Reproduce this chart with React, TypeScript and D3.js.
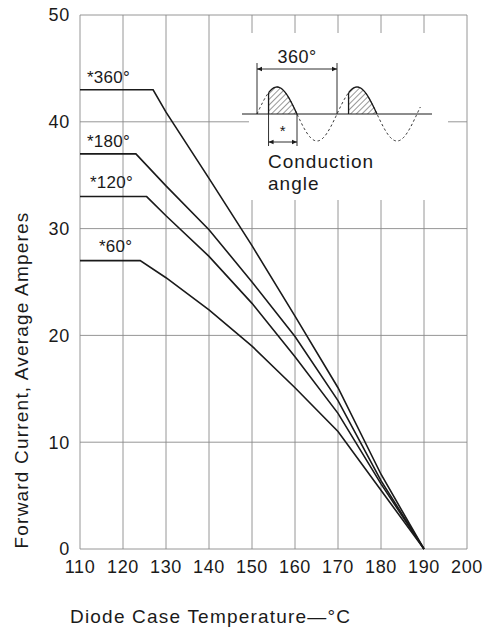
import React from "react";
import * as d3 from "d3";

// ---- data ----
const xTicks = [110, 120, 130, 140, 150, 160, 170, 180, 190, 200];
const yTicks = [0, 10, 20, 30, 40, 50];

const temps360 = [110, 127, 130, 140, 150, 160, 170, 180, 190];
const amps360 = [43, 43, 40.9, 34.7, 28.4, 21.8, 15.1, 7.0, 0];
const temps180 = [110, 123, 130, 140, 150, 160, 170, 180, 190];
const amps180 = [37, 37, 34.0, 29.9, 25.0, 19.9, 13.9, 6.4, 0];
const temps120 = [110, 125.5, 130, 140, 150, 160, 170, 180, 190];
const amps120 = [33, 33, 31.2, 27.4, 23.0, 18.0, 12.7, 6.1, 0];
const temps60 = [110, 124, 130, 140, 150, 160, 170, 180, 190];
const amps60 = [27, 27, 25.4, 22.4, 19.0, 15.1, 11.0, 5.5, 0];

const seriesLabels = ["*360°", "*180°", "*120°", "*60°"];
const labelTemps = [111.6, 111.6, 112.3, 114.4];
const labelAmps = [43.6, 37.6, 33.8, 27.8];

const W = 486;
const H = 630;
const FONT = "'Liberation Sans', Arial, sans-serif";
const GRID = "#8a8a8a";
const INK = "#1a1a1a";

export default function App() {
  const x = d3.scaleLinear().domain([110, 200]).range([80, 467]);
  const y = d3.scaleLinear().domain([0, 50]).range([549, 15]);

  const series = [
    { t: temps360, a: amps360 },
    { t: temps180, a: amps180 },
    { t: temps120, a: amps120 },
    { t: temps60, a: amps60 },
  ];
  const line = d3
    .line<[number, number]>()
    .x((d) => x(d[0]))
    .y((d) => y(d[1]));

  // inset geometry (illustration)
  const ix0 = 257;
  const period = 80;
  const axisY = 114;
  const amp = 27;
  const px = (deg: number) => ix0 + (deg / 360) * period;
  const py = (deg: number) => axisY - amp * Math.sin((deg * Math.PI) / 180);
  const wave = d3
    .line<number>()
    .x((d) => px(d))
    .y((d) => py(d));
  const waveDegs = d3.range(0, 736, 3);
  const humpStart = 52;
  const humps = [0, 360].map((off) => {
    const degs = d3.range(off + humpStart, off + 180.01, 2);
    const top = wave(degs) || "";
    const area =
      `M${px(off + humpStart)},${axisY}` +
      degs.map((d) => `L${px(d)},${py(d)}`).join("") +
      `L${px(off + 180)},${axisY}Z`;
    return { top, area, x0: px(off + humpStart), y0: py(off + humpStart) };
  });

  const arrow = (x1: number, x2: number, yy: number) => (
    <g>
      <line x1={x1} y1={yy} x2={x2} y2={yy} stroke={INK} strokeWidth={0.9} />
      <path d={`M${x1},${yy}l5,-2.2v4.4z`} fill={INK} />
      <path d={`M${x2},${yy}l-5,-2.2v4.4z`} fill={INK} />
    </g>
  );

  return (
    <svg
      width={W}
      height={H}
      viewBox={`0 0 ${W} ${H}`}
      style={{ position: "absolute", left: 0, top: 0, background: "#fff" }}
      fontFamily={FONT}
    >
      <defs>
        <pattern id="hatch" width="4" height="4" patternUnits="userSpaceOnUse" patternTransform="rotate(45)">
          <line x1="0" y1="0" x2="0" y2="4" stroke={INK} strokeWidth={0.9} />
        </pattern>
      </defs>
      <rect x={0} y={0} width={W} height={H} fill="#fff" />

      {/* grid */}
      {xTicks.map((t) => (
        <line key={"gx" + t} x1={x(t)} x2={x(t)} y1={y(0)} y2={y(50)} stroke={GRID} strokeWidth={0.9} />
      ))}
      {yTicks.map((t) => (
        <line key={"gy" + t} x1={x(110)} x2={x(200)} y1={y(t)} y2={y(t)} stroke={GRID} strokeWidth={0.9} />
      ))}

      {/* blank area for inset */}
      <rect x={249} y={33} width={199} height={167} fill="#fff" />

      {/* tick labels */}
      {yTicks.map((t) => (
        <text key={"ly" + t} x={70} y={y(t)} dy="0.35em" textAnchor="end" fontSize={18} letterSpacing={0.8} fill={INK}>
          {t}
        </text>
      ))}
      {xTicks.map((t) => (
        <text key={"lx" + t} x={x(t)} y={573} textAnchor="middle" fontSize={18} letterSpacing={0.6} fill={INK}>
          {t}
        </text>
      ))}

      {/* axis titles */}
      <text
        transform="translate(28,380) rotate(-90)"
        textAnchor="middle"
        fontSize={19}
        letterSpacing={1.2}
        fill={INK}
      >
        Forward Current, Average Amperes
      </text>
      <text x={70} y={623} fontSize={19} letterSpacing={1.2} fill={INK}>
        Diode Case Temperature—°C
      </text>

      {/* curves */}
      {series.map((s, i) => (
        <path
          key={"s" + i}
          d={line(s.t.map((t, j) => [t, s.a[j]] as [number, number])) || ""}
          fill="none"
          stroke={INK}
          strokeWidth={1.6}
        />
      ))}
      {seriesLabels.map((l, i) => (
        <text key={"sl" + i} x={x(labelTemps[i])} y={y(labelAmps[i])} fontSize={17} letterSpacing={0.3} fill={INK}>
          {l}
        </text>
      ))}

      {/* inset */}
      <line x1={242} x2={432} y1={axisY} y2={axisY} stroke={INK} strokeWidth={1} />
      <path d={wave(waveDegs) || ""} fill="none" stroke={INK} strokeWidth={0.9} strokeDasharray="2.5,2.5" />
      {humps.map((h, i) => (
        <g key={"h" + i}>
          <path d={h.area} fill="url(#hatch)" stroke="none" />
          <path d={h.top} fill="none" stroke={INK} strokeWidth={1.3} />
          <line x1={h.x0} x2={h.x0} y1={axisY} y2={h.y0} stroke={INK} strokeWidth={1.3} />
        </g>
      ))}
      <line x1={px(0)} x2={px(0)} y1={63} y2={axisY} stroke={INK} strokeWidth={0.9} />
      <line x1={px(360)} x2={px(360)} y1={63} y2={axisY} stroke={INK} strokeWidth={0.9} />
      {arrow(px(0), px(360), 69)}
      <text x={px(180)} y={63} textAnchor="middle" fontSize={18} letterSpacing={0.5} fill={INK}>
        360°
      </text>
      <line x1={px(humpStart)} x2={px(humpStart)} y1={axisY} y2={146} stroke={INK} strokeWidth={0.9} />
      <line x1={px(180)} x2={px(180)} y1={axisY} y2={146} stroke={INK} strokeWidth={0.9} />
      {arrow(px(humpStart), px(180), 142)}
      <text x={(px(humpStart) + px(180)) / 2} y={136} textAnchor="middle" fontSize={15} fill={INK}>
        *
      </text>
      <text x={268} y={168} fontSize={19} letterSpacing={1} fill={INK}>
        Conduction
      </text>
      <text x={268} y={190} fontSize={19} letterSpacing={1} fill={INK}>
        angle
      </text>
    </svg>
  );
}
